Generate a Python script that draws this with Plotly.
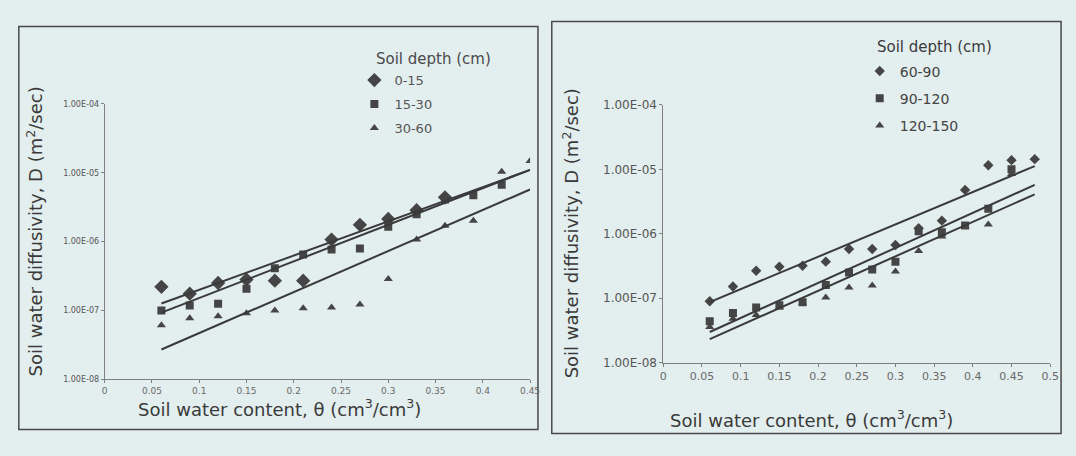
import numpy as np
import plotly.graph_objects as go

# ---------------- data ----------------
# Left panel: soil depths 0-60 cm
theta_left = [0.06, 0.09, 0.12, 0.15, 0.18, 0.21, 0.24, 0.27, 0.30, 0.33, 0.36, 0.39, 0.42, 0.45]
d_0_15 = [2.2e-7, 1.75e-7, 2.5e-7, 2.8e-7, 2.7e-7, 2.7e-7, 1.07e-6, 1.75e-6, 2.13e-6, 2.86e-6, 4.4e-6]
d_15_30 = [1.0e-7, 1.18e-7, 1.25e-7, 2.06e-7, 4.1e-7, 6.5e-7, 7.7e-7, 7.9e-7, 1.64e-6, 2.5e-6, 4.1e-6, 4.7e-6, 6.7e-6]
d_30_60 = [6.1e-8, 7.7e-8, 8.2e-8, 9.1e-8, 1.0e-7, 1.07e-7, 1.1e-7, 1.22e-7, 2.86e-7, 1.07e-6, 1.7e-6, 2.0e-6, 1.03e-5, 1.48e-5]

# Right panel: soil depths 60-150 cm
theta_right = [0.06, 0.09, 0.12, 0.15, 0.18, 0.21, 0.24, 0.27, 0.30, 0.33, 0.36, 0.39, 0.42, 0.45, 0.48]
d_60_90 = [9.0e-8, 1.52e-7, 2.67e-7, 3.08e-7, 3.2e-7, 3.7e-7, 5.8e-7, 5.8e-7, 6.7e-7, 1.22e-6, 1.6e-6, 4.8e-6, 1.16e-5, 1.39e-5, 1.44e-5]
d_90_120 = [4.4e-8, 5.9e-8, 7.2e-8, 7.8e-8, 8.7e-8, 1.6e-7, 2.5e-7, 2.8e-7, 3.7e-7, 1.1e-6, 1.06e-6, 1.35e-6, 2.45e-6, 1.0e-5]
d_120_150 = [3.6e-8, 4.8e-8, 5.5e-8, 7.2e-8, 8.5e-8, 1.03e-7, 1.47e-7, 1.58e-7, 2.6e-7, 5.4e-7, 9.1e-7, 1.3e-6, 1.4e-6, 8.5e-6]

# Exponential trendlines D = a * exp(b * theta)
fit_a_left = [6.33e-8, 4.46e-8, 1.185e-8]
fit_b_left = [11.46, 12.24, 13.73]
fit_a_right = [4.35e-8, 1.416e-8, 1.113e-8]
fit_b_right = [11.57, 12.51, 12.31]
fit_range_left = [0.06, 0.45]
fit_range_right = [0.06, 0.48]

labels_left = ["0-15", "15-30", "30-60"]
labels_right = ["60-90", "90-120", "120-150"]

y_tick_vals = [1e-8, 1e-7, 1e-6, 1e-5, 1e-4]
y_tick_text = ["1.00E-08", "1.00E-07", "1.00E-06", "1.00E-05", "1.00E-04"]
x_tick_vals_left = [0, 0.05, 0.1, 0.15, 0.2, 0.25, 0.3, 0.35, 0.4, 0.45]
x_tick_text_left = ["0", "0.05", "0.1", "0.15", "0.2", "0.25", "0.3", "0.35", "0.4", "0.45"]
x_tick_vals_right = [0, 0.05, 0.1, 0.15, 0.2, 0.25, 0.3, 0.35, 0.4, 0.45, 0.5]
x_tick_text_right = ["0", "0.05", "0.1", "0.15", "0.2", "0.25", "0.3", "0.35", "0.4", "0.45", "0.5"]

# ---------------- styling ----------------
W, H = 1076, 456
BG = "#e3eeee"
MARK = "#454545"
LINE = "#3a3a3a"
FONT = "DejaVu Sans"


def px_x(p):
    return p / W


def px_y(p):
    return 1 - p / H


fig = go.Figure()

series_left = [d_0_15, d_15_30, d_30_60]
series_right = [d_60_90, d_90_120, d_120_150]
symbols = ["diamond", "square", "triangle-up"]
sizes_left = [11, 8, 8]
sizes_right = [8, 8, 8]

for i, vals in enumerate(series_left):
    fig.add_trace(go.Scatter(
        x=theta_left[:len(vals)], y=vals, mode="markers", name=labels_left[i],
        marker=dict(symbol=symbols[i], size=sizes_left[i], color=MARK),
        legendgroup="L%d" % i, xaxis="x", yaxis="y", legend="legend"))
for i in range(3):
    t = np.linspace(fit_range_left[0], fit_range_left[1], 60)
    fig.add_trace(go.Scatter(
        x=t, y=fit_a_left[i] * np.exp(fit_b_left[i] * t), mode="lines",
        line=dict(color=LINE, width=2), showlegend=False, hoverinfo="skip",
        xaxis="x", yaxis="y"))

for i, vals in enumerate(series_right):
    fig.add_trace(go.Scatter(
        x=theta_right[:len(vals)], y=vals, mode="markers", name=labels_right[i],
        marker=dict(symbol=symbols[i], size=sizes_right[i], color=MARK),
        legendgroup="R%d" % i, xaxis="x2", yaxis="y2", legend="legend2"))
for i in range(3):
    t = np.linspace(fit_range_right[0], fit_range_right[1], 60)
    fig.add_trace(go.Scatter(
        x=t, y=fit_a_right[i] * np.exp(fit_b_right[i] * t), mode="lines",
        line=dict(color=LINE, width=2), showlegend=False, hoverinfo="skip",
        xaxis="x2", yaxis="y2"))

axis_common = dict(showgrid=False, zeroline=False, showline=True, linecolor="#808080",
                   linewidth=1, ticks="outside", ticklen=3, tickcolor="#808080")

fig.update_layout(
    width=W, height=H, autosize=False,
    margin=dict(l=0, r=0, t=0, b=0),
    paper_bgcolor=BG, plot_bgcolor=BG,
    font=dict(family=FONT, color="#3a3a3a"),
    xaxis=dict(domain=[px_x(102), px_x(533)], range=[0, 0.45], anchor="y",
               tickvals=x_tick_vals_left, ticktext=x_tick_text_left,
               tickfont=dict(size=9, color="#6a6a6a"), **axis_common),
    yaxis=dict(domain=[px_y(384), px_y(100)], type="log", range=[-8, -4], anchor="x",
               tickvals=y_tick_vals, ticktext=y_tick_text,
               tickfont=dict(size=8, color="#555555"), **axis_common),
    xaxis2=dict(domain=[px_x(668), px_x(1060)], range=[0, 0.5], anchor="y2",
                tickvals=x_tick_vals_right, ticktext=x_tick_text_right,
                tickfont=dict(size=11, color="#6a6a6a"), **axis_common),
    yaxis2=dict(domain=[px_y(367), px_y(101)], type="log", range=[-8, -4], anchor="x2",
                tickvals=y_tick_vals, ticktext=y_tick_text,
                tickfont=dict(size=12, color="#555555"), **axis_common),
    legend=dict(x=px_x(355), y=px_y(60), xanchor="left", yanchor="top",
                bgcolor="rgba(0,0,0,0)", font=dict(size=13, color="#555555"),
                itemwidth=30, tracegroupgap=4),
    legend2=dict(x=px_x(867), y=px_y(50), xanchor="left", yanchor="top",
                 bgcolor="rgba(0,0,0,0)", font=dict(size=14, color="#444444"),
                 itemwidth=30, tracegroupgap=6),
    showlegend=True,
)

# Panel frames
for x0, x1, y0, y1 in [(15, 541, 20, 436), (555, 1071, 15, 440)]:
    fig.add_shape(type="rect", xref="paper", yref="paper",
                  x0=px_x(x0), x1=px_x(x1), y0=px_y(y1), y1=px_y(y0),
                  line=dict(color="#4a4a4a", width=1.5), fillcolor="rgba(0,0,0,0)", layer="below")

# Axis titles and legend headings
ann = [
    dict(text="Soil water diffusivity, D (m<sup>2</sup>/sec)", x=px_x(31), y=px_y(232), textangle=-90, size=18),
    dict(text="Soil water content, θ (cm<sup>3</sup>/cm<sup>3</sup>)", x=px_x(279), y=px_y(414), textangle=0, size=18),
    dict(text="Soil water diffusivity, D (m<sup>2</sup>/sec)", x=px_x(574), y=px_y(234), textangle=-90, size=18),
    dict(text="Soil water content, θ (cm<sup>3</sup>/cm<sup>3</sup>)", x=px_x(818), y=px_y(425), textangle=0, size=18),
]
for a in ann:
    fig.add_annotation(text=a["text"], x=a["x"], y=a["y"], xref="paper", yref="paper",
                       showarrow=False, textangle=a["textangle"], xanchor="center", yanchor="middle",
                       font=dict(size=a["size"], color="#3a3a3a", family=FONT))
fig.add_annotation(text="Soil depth (cm)", x=px_x(375), y=px_y(54), xref="paper", yref="paper",
                   showarrow=False, xanchor="left", yanchor="middle",
                   font=dict(size=15, color="#4a4a4a", family=FONT))
fig.add_annotation(text="Soil depth (cm)", x=px_x(882), y=px_y(41), xref="paper", yref="paper",
                   showarrow=False, xanchor="left", yanchor="middle",
                   font=dict(size=15, color="#3a3a3a", family=FONT))

fig.write_html("out.html")
